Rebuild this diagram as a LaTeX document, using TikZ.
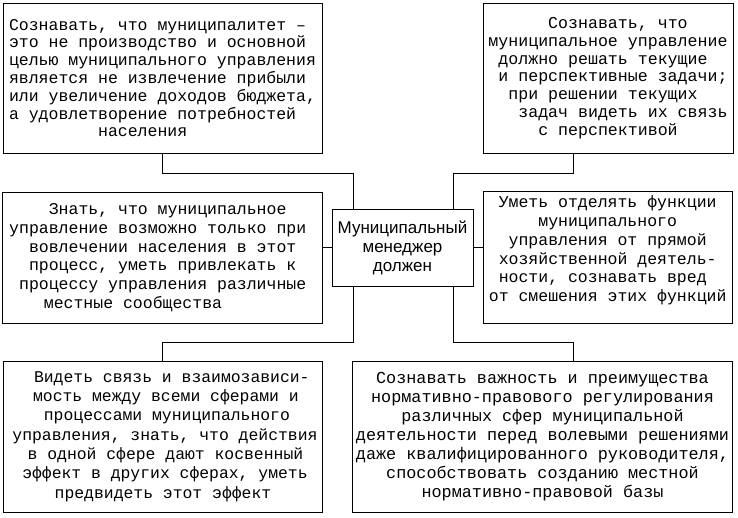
\documentclass[tikz,border=0pt]{standalone}
\usepackage{fontspec}
\setmonofont{Liberation Mono}
\newfontfamily\sansf{Liberation Sans}
\newcommand\ix[1]{\rule{#1\dimexpr0.6em\relax}{0pt}}
\begin{document}
\begin{tikzpicture}[x=1bp,y=-1bp,
  box/.style={draw, line width=0.9bp, inner sep=0pt, align=left},
  mono/.style 2 args={font={\fontsize{#1bp}{#2bp}\selectfont\ttfamily}},
  wire/.style={line width=0.9bp}]
\useasboundingbox (0,0) rectangle (738,518);
\fill[white] (0,0) rectangle (738,518);

\node[box, mono={16.5}{17.8}, minimum width=319bp, minimum height=150bp] (tl) at (162.5,78)
{Сознавать, что муниципалитет –\\
это не производство и основной\\
целью муниципального управления\\
является не извлечение прибыли\\
или увеличение доходов бюджета,\\
а удовлетворение потребностей\\
\ix{9}населения};

\node[box, mono={16.6}{17.8}, minimum width=250bp, minimum height=150bp] (tr) at (608,78)
{\ix{6}Сознавать, что\\
муниципальное управление\\
\ix{1}должно решать текущие\\
\ix{1}и перспективные задачи;\\
\ix{2}при решении текущих\\
\ix{3}задач видеть их связь\\
\ix{5}с перспективой};

\node[box, mono={16.5}{18.7}, minimum width=319.5bp, minimum height=131bp] (ml) at (162.7,257.5)
{\ix{4}Знать, что муниципальное\\
управление возможно только при\ix{1}\\
\ix{2}вовлечении населения в этот\\
\ix{2}процесс, уметь привлекать к\\
\ix{1}процессу управления различные\\
\ix{3.5}местные сообщества};

\node[box, mono={16.5}{18.8}, minimum width=249.5bp, minimum height=131.5bp] (mr) at (607.7,257.2)
{\ix{1}Уметь отделять функции\\
\ix{5}муниципального\\
\ix{2}управления от прямой\\
\ix{1}хозяйственной деятель-\\
\ix{1}ности, сознавать вред\\
от смешения этих функций\rule[-17bp]{0pt}{17bp}};

\node[box, align=center, font={\fontsize{17bp}{19bp}\selectfont\sansf},
  minimum width=141bp, minimum height=77bp] (c) at (402.5,247.5)
{Муниципальный\\менеджер\\должен};

\node[box, mono={16.4}{19.3}, minimum width=319bp, minimum height=151bp] (bl) at (162.5,436.5)
{\ix{2.7}Видеть связь и взаимозависи-\\
\ix{2.6}мость между всеми сферами и\\
\ix{3.7}процессами муниципального\\
\ix{0.5}управления, знать, что действия\\
\ix{2.05}в одной сфере дают косвенный\\
\ix{1.5}эффект в других сферах, уметь\\
\ix{4.8}предвидеть этот эффект};

\node[box, align=center, mono={16.8}{19}, minimum width=380.4bp, minimum height=151bp] (br) at (542.5,436.5)
{Сознавать важность и преимущества\\
нормативно-правового регулирования\\
различных сфер муниципальной\\
деятельности перед волевыми решениями\\
даже квалифицированного руководителя,\\
способствовать созданию местной\\
нормативно-правовой базы};

\coordinate (ja) at (353,173);
\coordinate (jb) at (453,173);
\coordinate (jc) at (573,173);
\coordinate (ka) at (353,342);
\coordinate (kb) at (453,342);
\coordinate (kc) at (573,342);

\draw[wire] (tl.south) |- (ja) -- (ja |- c.north);
\draw[wire] (tr.south -| jc) -- (jc) -- (jb) -- (jb |- c.north);
\draw[wire] (ka |- c.south) -- (ka) -| (bl.north);
\draw[wire] (kb |- c.south) -- (kb) -- (kc) -- (kc |- br.north);
\draw[wire] (c.west) -- (c.west -| ml.east);
\draw[wire] (c.east) -- (c.east -| mr.west);
\end{tikzpicture}
\end{document}
